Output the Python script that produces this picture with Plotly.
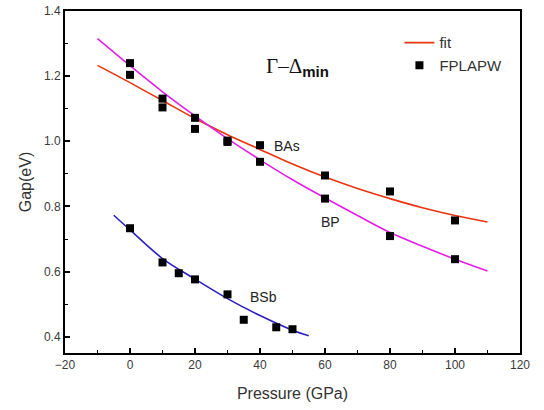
import plotly.graph_objects as go

# ---- data ----
pressure_pts = [0, 10, 20, 30, 40, 60, 80, 100]
bas_gap = [1.204, 1.104, 1.038, 1.002, 0.988, 0.895, 0.846, 0.757]
bp_gap = [1.240, 1.131, 1.072, 0.998, 0.937, 0.824, 0.709, 0.638]

bsb_pressure = [0, 10, 15, 20, 30, 35, 45, 50]
bsb_gap = [0.733, 0.628, 0.595, 0.576, 0.530, 0.452, 0.429, 0.423]

fit_p = [-10, 0, 10, 20, 30, 40, 50, 60, 70, 80, 90, 100, 110]
bas_fit = [1.233, 1.180, 1.125, 1.070, 1.020, 0.975, 0.930, 0.890, 0.855, 0.824, 0.796, 0.772, 0.752]
bp_fit = [1.315, 1.232, 1.152, 1.078, 1.008, 0.943, 0.882, 0.826, 0.772, 0.720, 0.678, 0.638, 0.602]

bsb_fit_p = [-5, 0, 10, 20, 30, 40, 50, 55]
bsb_fit = [0.773, 0.728, 0.640, 0.577, 0.517, 0.465, 0.420, 0.403]

labels = ["BAs", "BP", "BSb"]
label_x = [48.3, 61.8, 41.2]
label_y = [0.987, 0.751, 0.522]

RED = "#e8340f"
MAG = "#e41fe4"
BLUE = "#2d1fc4"
FONT = "Liberation Sans, Arial, sans-serif"

fig = go.Figure()
fig.add_trace(go.Scatter(x=fit_p, y=bas_fit, mode="lines", name="fit",
                         line=dict(color=RED, width=1.6, shape="spline"),
                         showlegend=True, legendrank=1))
fig.add_trace(go.Scatter(x=fit_p, y=bp_fit, mode="lines", name="BP fit",
                         line=dict(color=MAG, width=1.6, shape="spline"),
                         showlegend=False))
fig.add_trace(go.Scatter(x=bsb_fit_p, y=bsb_fit, mode="lines", name="BSb fit",
                         line=dict(color=BLUE, width=1.6, shape="spline"),
                         showlegend=False))
mk = dict(symbol="square", size=8, color="black")
fig.add_trace(go.Scatter(x=pressure_pts, y=bas_gap, mode="markers", name="FPLAPW",
                         marker=mk, showlegend=True, legendrank=2))
fig.add_trace(go.Scatter(x=pressure_pts, y=bp_gap, mode="markers", name="BP",
                         marker=mk, showlegend=False))
fig.add_trace(go.Scatter(x=bsb_pressure, y=bsb_gap, mode="markers", name="BSb",
                         marker=mk, showlegend=False))

for t, x, y in zip(labels, label_x, label_y):
    fig.add_annotation(x=x, y=y, text=t, showarrow=False,
                       font=dict(family=FONT, size=14, color="#222"))

fig.add_annotation(x=0.512, y=0.835, xref="paper", yref="paper",
                   xanchor="center", yanchor="middle", showarrow=False,
                   text='Γ–Δ<sub><span style="font-family:Liberation Sans, Arial;font-weight:bold;font-size:15px">min</span></sub>',
                   font=dict(family="Liberation Serif, Times New Roman, serif", size=21, color="#111"))

axis_common = dict(showline=True, linewidth=2, linecolor="black", mirror=True,
                   ticks="inside", ticklen=5, tickwidth=1.5, tickcolor="black",
                   showgrid=False, zeroline=False, automargin=False,
                   tickfont=dict(family=FONT, size=12, color="#3a3a3a"))

fig.update_xaxes(range=[-20, 120], tick0=-20, dtick=20,
                 minor=dict(ticks="inside", ticklen=3, dtick=10, tickwidth=1.2, tickcolor="black"),
                 title=dict(text="Pressure (GPa)", font=dict(family=FONT, size=16, color="#333"), standoff=16),
                 **axis_common)
fig.update_yaxes(range=[0.35, 1.4], tick0=0.4, dtick=0.2, tickformat=".1f",
                 minor=dict(ticks="inside", ticklen=3, dtick=0.1, tickwidth=1.2, tickcolor="black"),
                 title=dict(text="Gap(eV)", font=dict(family=FONT, size=16, color="#333"), standoff=8),
                 **axis_common)

fig.update_layout(width=544, height=410,
                  margin=dict(l=65, r=24, t=11, b=57),
                  paper_bgcolor="white", plot_bgcolor="white",
                  legend=dict(x=0.735, y=0.955, xanchor="left", yanchor="top",
                              bgcolor="rgba(0,0,0,0)", borderwidth=0,
                              font=dict(family=FONT, size=15, color="#333"),
                              tracegroupgap=4))

# remove the default page margin so the 544x410 figure fills the window exactly
fig.write_html("out.html", config={"displayModeBar": False},
               post_script="document.body.style.margin='0';")
